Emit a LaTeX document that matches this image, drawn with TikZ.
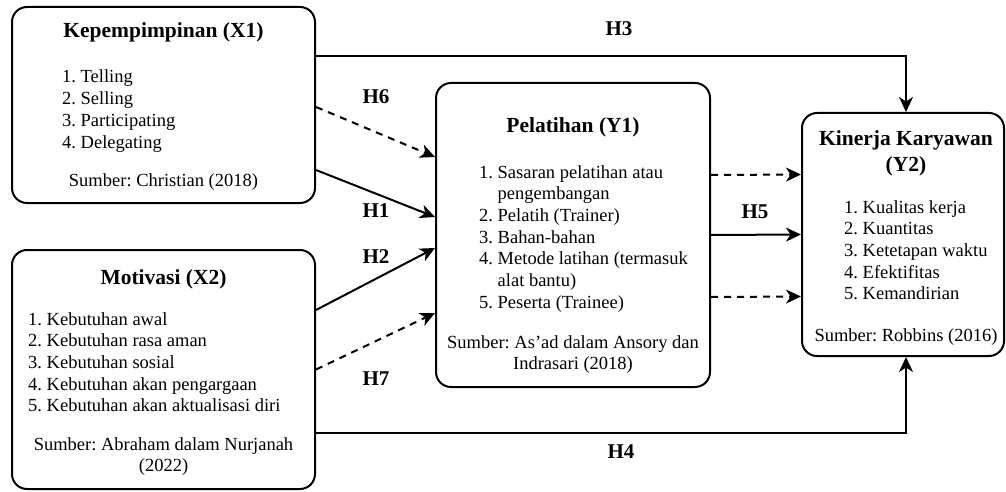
\documentclass[tikz,border=0pt]{standalone}
\usepackage{fontspec}
\setmainfont{Liberation Serif}
\frenchspacing
\usetikzlibrary{arrows.meta, positioning}
\tikzset{
  varbox/.style={rectangle, draw, line width=2pt, rounded corners=15pt},
  ttl/.style={font=\fontsize{21.5}{26}\selectfont\bfseries, inner sep=0pt},
  lst/.style={font=\fontsize{18.5}{21.7}\selectfont, inner sep=0pt},
  src/.style={font=\fontsize{18.5}{21.7}\selectfont, inner sep=0pt},
  hlbl/.style={font=\fontsize{21}{25}\selectfont\bfseries, inner sep=0pt},
  harr/.style={-{Stealth[length=15pt, width=14pt, inset=4.5pt]}, line width=2pt},
  darr/.style={harr, dash pattern=on 7pt off 6pt}
}

\begin{document}
\begin{tikzpicture}[x=1pt, y=1pt]
  \useasboundingbox (0,0) rectangle (1006,-492);

  %% -- Variable boxes --
  \node[varbox, minimum width=303pt, minimum height=196pt] (x1) at (163.5,-105) {};
  \node[varbox, minimum width=303pt, minimum height=239pt] (x2) at (163.5,-369.5) {};
  \node[varbox, minimum width=274pt, minimum height=304pt] (y1) at (573,-235) {};
  \node[varbox, minimum width=202pt, minimum height=243pt] (y2) at (903,-234.5) {};

  %% -- Kepempimpinan (X1) --
  \node[ttl, below=32pt of x1.north, anchor=base] (x1t) {Kepempimpinan (X1)};
  \node[lst, below right=77pt and 51pt of x1.north west, anchor=base west] (x1l)
    {\begin{tabular}[t]{@{}l@{}}1. Telling\\2. Selling\\3. Participating\\4. Delegating\end{tabular}};
  \node[src, below=180pt of x1.north, anchor=base] (x1s) {Sumber: Christian (2018)};

  %% -- Motivasi (X2) --
  \node[ttl, below=35pt of x2.north, anchor=base] (x2t) {Motivasi (X2)};
  \node[lst, below right=76pt and 17pt of x2.north west, anchor=base west] (x2l)
    {\begin{tabular}[t]{@{}l@{}}1. Kebutuhan awal\\2. Kebutuhan rasa aman\\3. Kebutuhan sosial\\
     4. Kebutuhan akan pengargaan\\5. Kebutuhan akan aktualisasi diri\end{tabular}};
  \node[src, below=201pt of x2.north, anchor=base] (x2s)
    {\begin{tabular}[t]{@{}c@{}}Sumber: Abraham dalam Nurjanah\\(2022)\end{tabular}};

  %% -- Pelatihan (Y1) --
  \node[ttl, below=50pt of y1.north, anchor=base] (y1t) {Pelatihan (Y1)};
  \node[lst, below right=96pt and 44pt of y1.north west, anchor=base west] (y1l)
    {\begin{tabular}[t]{@{}l@{~}l@{}}1.&Sasaran pelatihan atau\\&pengembangan\\2.&Pelatih (Trainer)\\
     3.&Bahan-bahan\\4.&Metode latihan (termasuk\\&alat bantu)\\5.&Peserta (Trainee)\end{tabular}};
  \node[src, below=266pt of y1.north, anchor=base] (y1s)
    {\begin{tabular}[t]{@{}c@{}}Sumber: As’ad dalam Ansory dan\\Indrasari (2018)\end{tabular}};

  %% -- Kinerja Karyawan (Y2) --
  \node[ttl, below=34pt of y2.north, anchor=base, xshift=3pt] (y2t)
    {\begin{tabular}[t]{@{}c@{}}Kinerja Karyawan\\(Y2)\end{tabular}};
  \node[lst, below right=101pt and 43pt of y2.north west, anchor=base west] (y2l)
    {\begin{tabular}[t]{@{}l@{}}1. Kualitas kerja\\2. Kuantitas\\3. Ketetapan waktu\\
     4. Efektifitas\\5. Kemandirian\end{tabular}};
  \node[src, below=229pt of y2.north, anchor=base, xshift=3pt] (y2s) {Sumber: Robbins (2016)};

  %% -- Hypothesis labels --
  \node[hlbl] (h3) at (619,-29)  {H3};
  \node[hlbl] (h6) at (376,-97)  {H6};
  \node[hlbl] (h1) at (376,-211) {H1};
  \node[hlbl] (h2) at (376,-257) {H2};
  \node[hlbl] (h7) at (376,-379) {H7};
  \node[hlbl] (h5) at (755,-212) {H5};
  \node[hlbl] (h4) at (621,-452) {H4};

  %% -- Arrows: into Pelatihan --
  \draw[darr] ([yshift=-2pt]x1.east)    -- ([yshift=78pt]y1.west);
  \draw[harr] ([yshift=-65pt]x1.east)   -- ([yshift=18pt]y1.west);
  \draw[harr] ([yshift=59.5pt]x2.east)  -- ([yshift=-13pt]y1.west);
  \draw[darr] (x2.east)                 -- ([yshift=-78pt]y1.west);

  %% -- Arrows: into Kinerja --
  \draw[harr] ([yshift=49pt]x1.east)    -| ([xshift=3pt]y2.north);
  \draw[harr] ([yshift=-63.5pt]x2.east) -| ([xshift=3pt]y2.south);
  \draw[darr] ([yshift=60pt]y1.east)    -- ([yshift=60pt]y2.west);
  \draw[harr] (y1.east)                 -- (y2.west);
  \draw[darr] ([yshift=-62pt]y1.east)   -- ([yshift=-62pt]y2.west);
\end{tikzpicture}
\end{document}
